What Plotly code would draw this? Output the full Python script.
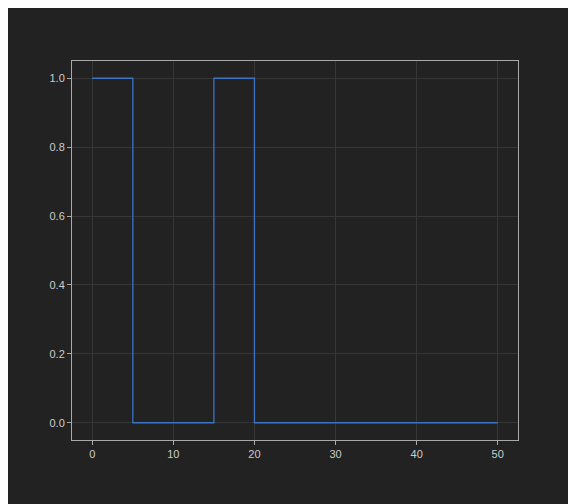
import plotly.graph_objects as go

# step points (hv shape)
x_vals = [0, 5, 15, 20, 50]
y_vals = [1, 0, 1, 0, 0]
x_ticks = [0, 10, 20, 30, 40, 50]
y_ticks = [0.0, 0.2, 0.4, 0.6, 0.8, 1.0]

fig = go.Figure()
fig.add_trace(go.Scatter(x=x_vals, y=y_vals, mode="lines", line_shape="hv",
                         line=dict(color="#3a74c4", width=1.3), showlegend=False))

axis_common = dict(showgrid=True, gridcolor="#363636", gridwidth=1, zeroline=False,
                   showline=True, linecolor="#aaaaaa", linewidth=1, mirror=True,
                   ticks="outside", ticklen=4, tickcolor="#aaaaaa",
                   tickfont=dict(color="#cccccc", size=11, family="Liberation Sans"))

fig.update_xaxes(range=[-2.5, 52.5], tickvals=x_ticks, **axis_common)
fig.update_yaxes(range=[-0.05, 1.05], tickvals=y_ticks, tickformat=".1f", **axis_common)

fig.update_layout(width=576, height=504, paper_bgcolor="#222222", plot_bgcolor="#222222",
                  margin=dict(l=64, r=66, t=53, b=72))

fig.write_html("out.html")
